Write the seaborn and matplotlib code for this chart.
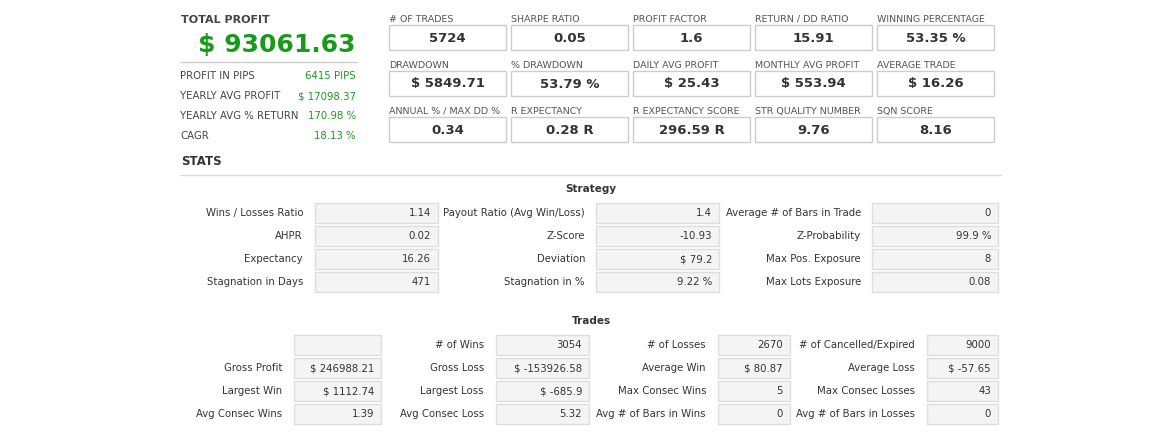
import matplotlib
matplotlib.use("Agg")
import matplotlib.pyplot as plt
from matplotlib.patches import Rectangle
import seaborn as sns

sns.set_theme(style="white")
plt.rcParams["font.family"] = "DejaVu Sans"

total_profit = "$ 93061.63"
left_labels = ["PROFIT IN PIPS", "YEARLY AVG PROFIT", "YEARLY AVG % RETURN", "CAGR"]
left_values = ["6415 PIPS", "$ 17098.37", "170.98 %", "18.13 %"]

metric_labels = [
    ["# OF TRADES", "SHARPE RATIO", "PROFIT FACTOR", "RETURN / DD RATIO", "WINNING PERCENTAGE"],
    ["DRAWDOWN", "% DRAWDOWN", "DAILY AVG PROFIT", "MONTHLY AVG PROFIT", "AVERAGE TRADE"],
    ["ANNUAL % / MAX DD %", "R EXPECTANCY", "R EXPECTANCY SCORE", "STR QUALITY NUMBER", "SQN SCORE"],
]
metric_values = [
    ["5724", "0.05", "1.6", "15.91", "53.35 %"],
    ["$ 5849.71", "53.79 %", "$ 25.43", "$ 553.94", "$ 16.26"],
    ["0.34", "0.28 R", "296.59 R", "9.76", "8.16"],
]

strategy_labels = [
    ["Wins / Losses Ratio", "Payout Ratio (Avg Win/Loss)", "Average # of Bars in Trade"],
    ["AHPR", "Z-Score", "Z-Probability"],
    ["Expectancy", "Deviation", "Max Pos. Exposure"],
    ["Stagnation in Days", "Stagnation in %", "Max Lots Exposure"],
]
strategy_values = [
    ["1.14", "1.4", "0"],
    ["0.02", "-10.93", "99.9 %"],
    ["16.26", "$ 79.2", "8"],
    ["471", "9.22 %", "0.08"],
]

trades_labels = [
    ["", "# of Wins", "# of Losses", "# of Cancelled/Expired"],
    ["Gross Profit", "Gross Loss", "Average Win", "Average Loss"],
    ["Largest Win", "Largest Loss", "Max Consec Wins", "Max Consec Losses"],
    ["Avg Consec Wins", "Avg Consec Loss", "Avg # of Bars in Wins", "Avg # of Bars in Losses"],
]
trades_values = [
    ["", "3054", "2670", "9000"],
    ["$ 246988.21", "$ -153926.58", "$ 80.87", "$ -57.65"],
    ["$ 1112.74", "$ -685.9", "5", "43"],
    ["1.39", "5.32", "0", "0"],
]

fig = plt.figure(figsize=(11.76, 4.44), dpi=100)
ax = fig.add_axes([0, 0, 1, 1])
ax.set_xlim(0, 1176)
ax.set_ylim(444, 0)
ax.axis("off")

GREEN = "#1a9a1a"
DARK = "#333333"
LAB = "#444444"

# Left block
ax.text(181, 20, "TOTAL PROFIT", fontsize=8, fontweight="bold", color="#444", va="center")
ax.text(355, 45, total_profit, fontsize=18, fontweight="bold", color=GREEN, va="center", ha="right")
ax.plot([180, 357], [62, 62], color="#cccccc", lw=1)
for i, (l, v) in enumerate(zip(left_labels, left_values)):
    y = 76 + 20 * i
    ax.text(180, y, l, fontsize=7.3, color=LAB, va="center")
    ax.text(356, y, v, fontsize=7.3, color=GREEN, va="center", ha="right")

# Metric boxes
cols = [389, 511, 633, 755, 877]
for r in range(3):
    ly = 19 + 46 * r
    by = 25 + 46 * r
    for c in range(5):
        x = cols[c]
        ax.text(x, ly, metric_labels[r][c], fontsize=6.8, color="#555", va="center")
        ax.add_patch(Rectangle((x, by), 117, 25, fill=False, ec="#cccccc", lw=1))
        ax.text(x + 58.5, by + 13, metric_values[r][c], fontsize=9.5, fontweight="bold",
                color=DARK, va="center", ha="center")

ax.text(181, 161, "STATS", fontsize=8.5, fontweight="bold", color=DARK, va="center")
ax.plot([180, 1001], [175, 175], color="#dddddd", lw=1)

def table(title, ty, labels, values, lab_x, box_x, box_w, y0):
    ax.text(591, ty, title, fontsize=7.5, fontweight="bold", color=DARK, va="center", ha="center")
    for r in range(len(labels)):
        y = y0 + 23 * r
        for c in range(len(labels[r])):
            ax.text(lab_x[c], y, labels[r][c], fontsize=7.3, color=DARK, va="center", ha="right")
            ax.add_patch(Rectangle((box_x[c], y - 10), box_w[c], 20, fc="#f4f4f4", ec="#dddddd", lw=1))
            ax.text(box_x[c] + box_w[c] - 7, y, values[r][c], fontsize=7.3, color=DARK,
                    va="center", ha="right")

table("Strategy", 189, strategy_labels, strategy_values,
      [303, 585, 861], [315, 596, 872], [123, 123, 126], 213)
table("Trades", 321, trades_labels, trades_values,
      [282, 484, 706, 915], [294, 496, 718, 927], [87, 93, 72, 71], 345)

fig.savefig("out.png", dpi=100, facecolor="white")
